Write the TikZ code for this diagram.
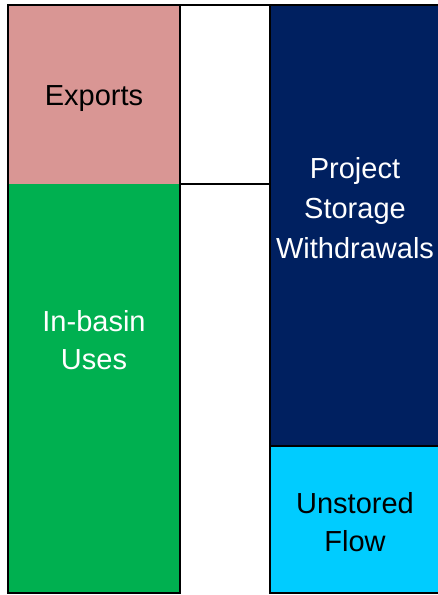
\documentclass[tikz,border=0pt]{standalone}
\usepackage{fontspec}
\setmainfont{Liberation Sans}
\usepackage{tikz}
\usetikzlibrary{positioning}
\definecolor{exportpink}{HTML}{D99694}
\definecolor{basingreen}{HTML}{00B050}
\definecolor{projectnavy}{HTML}{002060}
\definecolor{unstoredcyan}{HTML}{00CCFF}
\tikzstyle{edge} = [line width=2.5pt, draw=black, line cap=rect]

\begin{document}
\begin{tikzpicture}[x=1pt, y=-1pt,
    barlabel/.style={align=center, font=\fontsize{29}{38}\selectfont, inner sep=0pt}
]
    \useasboundingbox (0,0) rectangle (438,595);

    \fill[exportpink] (8,5) rectangle (180,184);
    \fill[basingreen] (8,184) rectangle (180,593);
    \fill[projectnavy] (270,5) rectangle (440,446);
    \fill[unstoredcyan] (270,446) rectangle (440,593);

    \draw[edge] (8,593) -- (8,5) -- (440,5);
    \draw[edge] (8,593) -- (180,593);
    \draw[edge] (180,5) -- (180,593);
    \draw[edge] (180,184) -- (270,184);
    \draw[edge] (270,5) -- (270,593) -- (440,593);
    \draw[edge] (270,446) -- (440,446);

    \node[barlabel, text=black] (exports) at (94,99) {Exports};
    \node[barlabel, text=white] (inbasin) at (94,340) {In-basin\\Uses};
    \node[barlabel, text=white, font=\fontsize{29}{40}\selectfont] (project) at (355,208) {Project\\Storage\\Withdrawals};
    \node[barlabel, text=black] (unstored) at (355,522) {Unstored\\Flow};
\end{tikzpicture}
\end{document}
